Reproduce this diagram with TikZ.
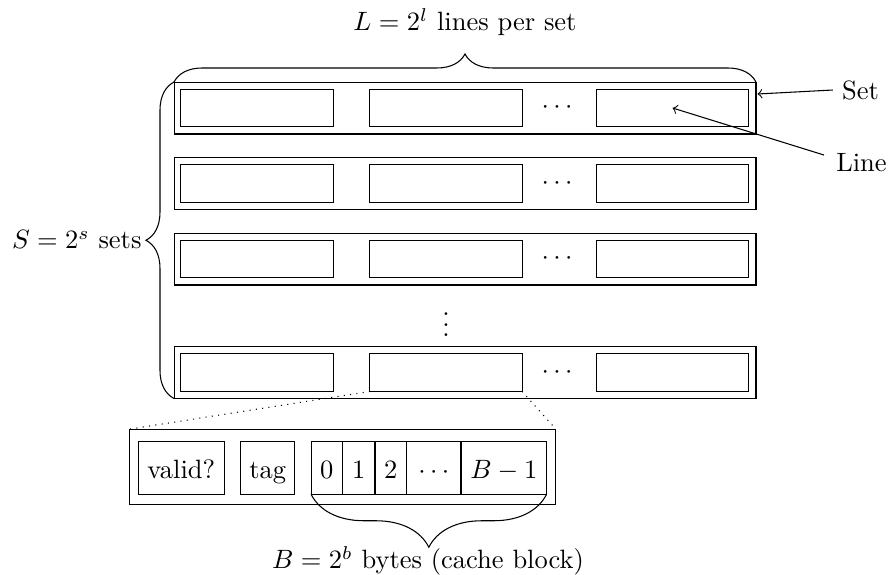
\documentclass[tikz,border=0pt]{standalone}
\usetikzlibrary{decorations.pathreplacing}
\begin{document}
\begin{tikzpicture}[x=0.37736pt,y=-0.37736pt,
  setbox/.style={draw,minimum width=219.6pt,minimum height=19.6pt,inner sep=0pt,outer sep=0pt},
  linebox/.style={draw,minimum width=57.4pt,minimum height=14.3pt,inner sep=0pt,outer sep=0pt},
  cell/.style={draw,minimum height=19.8pt,inner sep=0pt,outer sep=0pt,text height=8pt,text depth=0.4pt},
  bracedeco/.style={decorate,decoration={brace,amplitude=#1}},
  lbl/.style={inner sep=0pt}]
\useasboundingbox (0,0) rectangle (889,574);

% sets
\foreach \r/\y in {1/108,2/183.5,3/259,4/372.5}{
  \node[setbox] (s\r) at (465,\y) {};
  \node[linebox] (l\r1) at (257,\y) {};
  \node[linebox] (l\r2) at (446,\y) {};
  \node[linebox] (l\r3) at (672.6,\y) {};
  \node[lbl] (d\r) at (557,\y) {$\cdots$};
}
\node[lbl] (vd) at (446,316.7) {$\vdots$};

% expanded line
\node[draw,minimum width=161.1pt,minimum height=28.3pt,inner sep=0pt,outer sep=0pt] (exp) at (342.5,466.7) {};
\node[cell,minimum width=32.5pt] (valid) at (181.3,468) {valid?};
\node[cell,minimum width=20.5pt] (tag) at (267.8,468) {tag};
\node[cell,minimum width=11.8pt] (b0) at (326.7,468) {$0$};
\node[cell,minimum width=12.3pt] (b1) at (358.7,468) {$1$};
\node[cell,minimum width=12pt] (b2) at (390.8,468) {$2$};
\node[cell,minimum width=20.5pt] (bd) at (433.8,468) {$\cdots$};
\node[cell,minimum width=32.3pt] (bl) at (503.8,468) {$B-1$};

\draw[dotted] (l42.south west) -- (exp.north west);
\draw[dotted] (l42.south east) -- (exp.north east);

% braces
\draw[bracedeco=10.6pt] (s1.north west) -- (s1.north east);
\draw[bracedeco=10.6pt] (s4.south west) -- (s1.north west);
\draw[bracedeco=20pt] (bl.south east) -- (b0.south west);

\node[lbl] (Llbl) at (465,22) {$L=2^l$ lines per set};
\node[lbl,anchor=east] (Slbl) at (142,240) {$S=2^s$ sets};
\node[lbl] (Blbl) at (428,561) {$B=2^b$ bytes (cache block)};

% callouts
\node (setlbl) at (860.5,90) {Set};
\node (linelbl) at (861.5,163) {Line};
\coordinate (setpt) at (757.5,94);
\draw[->] (setlbl.west) -- (setpt);
\draw[->] ([shift={(-3,-8)}]linelbl.west) -- (l13.center);
\end{tikzpicture}
\end{document}
